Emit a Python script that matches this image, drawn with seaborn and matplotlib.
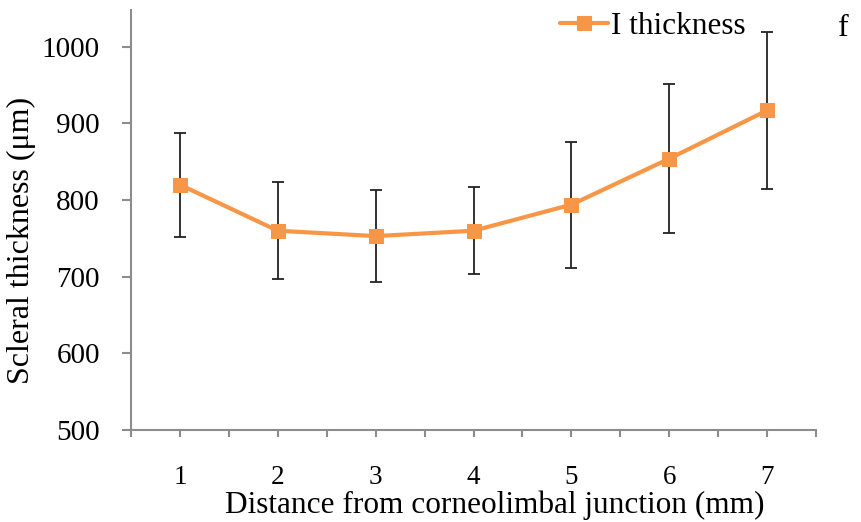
import matplotlib
matplotlib.use("Agg")
import matplotlib.pyplot as plt
import seaborn as sns
import pandas as pd
from matplotlib.ticker import MultipleLocator, FixedLocator

# Data
distance_mm = [1, 2, 3, 4, 5, 6, 7]
thickness_mean = [820, 760, 753, 760, 794, 854, 917]
thickness_sd = [68, 63, 60, 57, 82, 97, 102]
series_label = "I thickness"
panel_letter = "f"
y_ticks = [500, 600, 700, 800, 900, 1000]

sns.set_theme(style="white")
plt.rcParams["font.family"] = ["Liberation Serif", "DejaVu Serif"]
plt.rcParams["text.color"] = "black"
plt.rcParams["axes.labelcolor"] = "black"

df = pd.DataFrame({"distance": distance_mm, "thickness": thickness_mean, "sd": thickness_sd})

orange = "#F79646"
axis_gray = "#8C8C8C"

fig = plt.figure(figsize=(8.61, 5.22), dpi=100)
ax = fig.add_axes([131 / 861, 1 - 430 / 522, (816 - 131) / 861, (430 - 10) / 522])

ax.errorbar(df["distance"], df["thickness"], yerr=df["sd"], fmt="none",
            ecolor="#222222", elinewidth=1.3, capsize=4, capthick=1.3, zorder=2)
sns.lineplot(data=df, x="distance", y="thickness", ax=ax, color=orange,
             marker="s", markersize=10, markeredgecolor=orange, linewidth=3,
             label=series_label, zorder=3)

ax.set_xlim(0.5, 7.5)
ax.set_ylim(500, 1048)
ax.xaxis.set_major_locator(FixedLocator(distance_mm))
ax.xaxis.set_minor_locator(MultipleLocator(0.5))
ax.set_xticklabels([str(d) for d in distance_mm])
ax.set_yticks(y_ticks)
ax.set_yticklabels([str(v) for v in y_ticks])

for side in ["top", "right"]:
    ax.spines[side].set_visible(False)
for side in ["left", "bottom"]:
    ax.spines[side].set_color(axis_gray)
    ax.spines[side].set_linewidth(1.5)

ax.tick_params(axis="x", which="both", direction="out", length=5, width=1.5,
               color=axis_gray, bottom=True)
ax.tick_params(axis="x", which="major", labelsize=19.5, pad=20, labelcolor="black")
ax.tick_params(axis="y", which="major", direction="out", length=6.5, width=1.5,
               color=axis_gray, left=True, labelsize=21, pad=16, labelcolor="black")

ax.set_xlabel("Distance from corneolimbal junction (mm)", fontsize=22.5, color="black")
ax.xaxis.set_label_coords((495 - 131) / 685, (430 - 490) / 420)
ax.set_ylabel("Scleral thickness (μm)", fontsize=23, color="black")
ax.yaxis.set_label_coords((36 - 131) / 685, (430 - 240) / 420)

leg = ax.legend(loc="center left", bbox_to_anchor=(560 / 861, 1 - 26 / 522),
                bbox_transform=fig.transFigure, frameon=False, fontsize=22.5,
                handlelength=1.55, handletextpad=0.08, borderpad=0, borderaxespad=0)
for t in leg.get_texts():
    t.set_color("black")
fig.text(838 / 861, 1 - 29 / 522, panel_letter, fontsize=23, ha="left", va="center",
         color="black")

ax.grid(False)
fig.savefig("out.png", dpi=100)
